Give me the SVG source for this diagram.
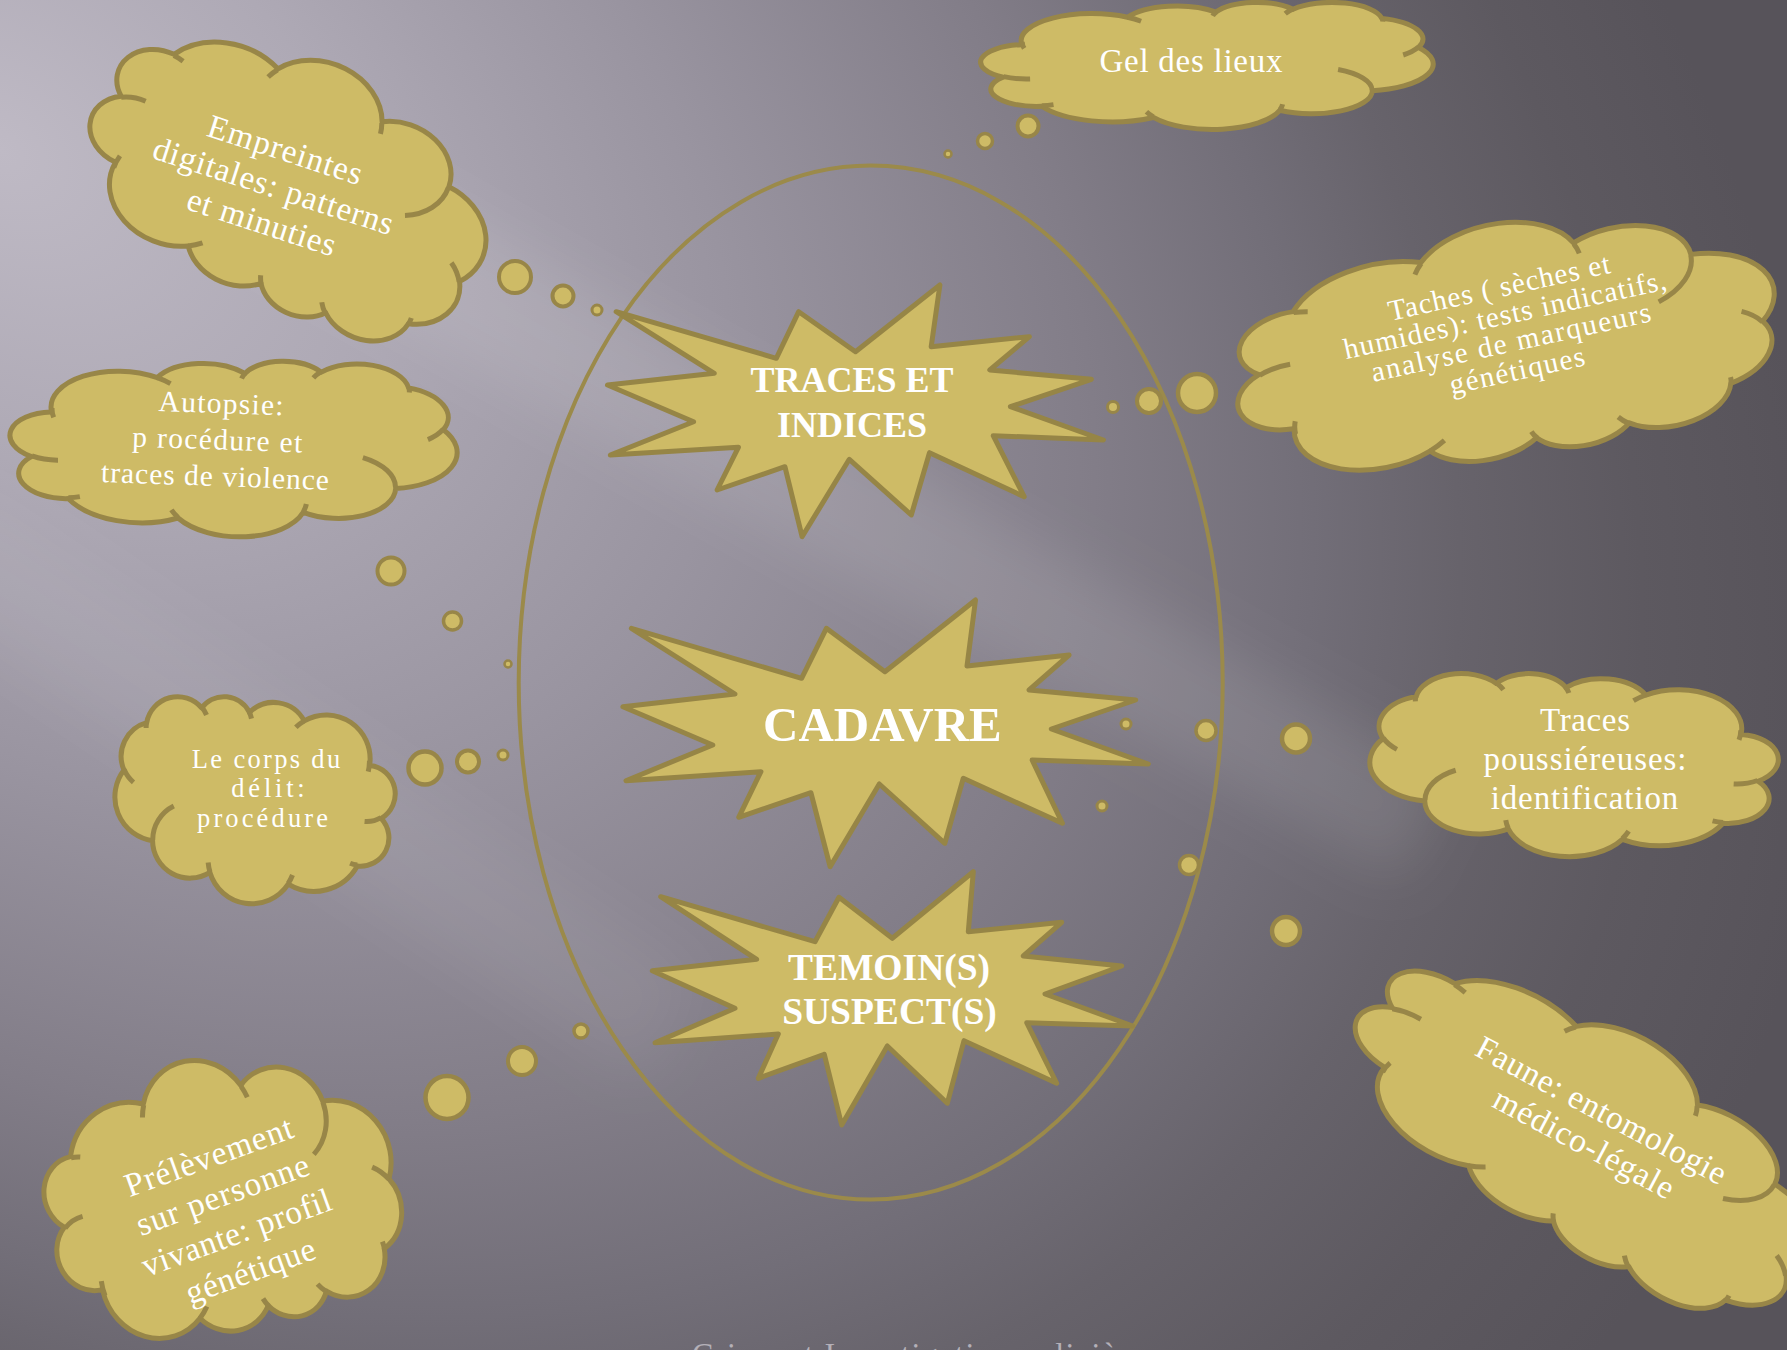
<svg xmlns="http://www.w3.org/2000/svg" xmlns:xlink="http://www.w3.org/1999/xlink" width="1787" height="1350" viewBox="0 0 1787 1350">
<defs>
<radialGradient id="bg" gradientUnits="userSpaceOnUse" cx="0" cy="150" r="2000" gradientTransform="rotate(35 0 150) translate(0 150) scale(1 0.7) translate(0 -150)">
<stop offset="0" stop-color="#bfbac5"/>
<stop offset="0.2" stop-color="#aea9b5"/>
<stop offset="0.4" stop-color="#9994a0"/>
<stop offset="0.6" stop-color="#827d88"/>
<stop offset="0.72" stop-color="#726e78"/>
<stop offset="0.8" stop-color="#67636b"/>
<stop offset="0.9" stop-color="#5d5960"/>
<stop offset="1" stop-color="#57535a"/>
</radialGradient>
<filter id="blur" x="-30%" y="-30%" width="160%" height="160%"><feGaussianBlur stdDeviation="28"/></filter>
<g id="cloud">
<path d="M3900 14370 A6753 9190 0 0 1 14005 5203 A5333 7267 0 0 1 22455 3434 A4365 5945 0 0 1 29830 2478 A4857 6595 0 0 1 38315 5572 A5333 7273 0 0 1 41815 15456 A6775 9220 0 0 1 37404 30205 A5785 7867 0 0 1 28556 36816 A6752 9215 0 0 1 16481 39268 A7720 10543 0 0 1 5805 35476 A4360 5918 0 0 1 2114 25554 A4345 5945 0 0 1 3864 14510 Z" fill="#cebb66" stroke="#988648" stroke-width="5" stroke-linejoin="round" vector-effect="non-scaling-stroke"/>
<path d="M4693 26177 A4345 5945 0 0 1 2160 25380 M6928 34899 A4360 5918 0 0 1 5820 35280 M16478 39090 A6752 9215 0 0 1 15810 37349 M28827 34751 A6752 9215 0 0 1 28560 36660 M34129 22954 A5785 7867 0 0 1 37380 30090 M41798 15354 A5333 7273 0 0 1 40350 18029 M38324 5426 A4857 6595 0 0 1 38400 6690 M29078 3952 A4857 6595 0 0 1 29820 2340 M22141 4720 A4365 5945 0 0 1 22500 3331 M14000 5192 A6753 9190 0 0 1 15299 6540 M4127 15789 A6753 9190 0 0 1 3944 13486" fill="none" stroke="#988648" stroke-width="5" vector-effect="non-scaling-stroke"/>
</g>
</defs>
<style>
.ct { font-family: "Liberation Serif", "DejaVu Serif", serif; fill: #ffffff; text-anchor: middle; }
.st { font-family: "Liberation Serif", "DejaVu Serif", serif; font-weight: bold; fill: #ffffff; text-anchor: middle; }
.burst { fill: #cebb66; stroke: #968546; stroke-width: 5; stroke-linejoin: round; }
.dot { fill: #cebb66; stroke: #988648; }
.ring { fill: none; stroke: #9b8a4a; stroke-width: 4; }
</style>

<rect x="0" y="0" width="1787" height="1350" fill="url(#bg)"/>
<g filter="url(#blur)" fill="#ffffff">
<polygon points="120,170 240,90 1450,780 1400,880" opacity="0.10"/>
<polygon points="-80,600 -40,480 700,980 640,1080" opacity="0.06"/>
</g>
<text x="692" y="1365" font-family="Liberation Serif, serif" font-size="32" fill="#b4b0b8" textLength="452" lengthAdjust="spacing">Crime et Investigation policière</text>

<ellipse class="ring" cx="870.7" cy="682.6" rx="352" ry="517"/>

<g id="connectors">
<circle class="dot" cx="515" cy="277" r="16" stroke-width="4"/>
<circle class="dot" cx="563" cy="296" r="10.5" stroke-width="4"/>
<circle class="dot" cx="597" cy="310" r="5" stroke-width="3"/>
<circle class="dot" cx="1028" cy="126" r="10.5" stroke-width="4"/>
<circle class="dot" cx="985" cy="141" r="7.5" stroke-width="3.5"/>
<circle class="dot" cx="948" cy="154" r="3.5" stroke-width="2.5"/>
<circle class="dot" cx="1197" cy="393" r="19" stroke-width="4.5"/>
<circle class="dot" cx="1149" cy="401" r="12" stroke-width="4"/>
<circle class="dot" cx="1113" cy="407" r="5.5" stroke-width="3"/>
<circle class="dot" cx="391" cy="571" r="13.5" stroke-width="4"/>
<circle class="dot" cx="452.5" cy="621" r="9" stroke-width="3.5"/>
<circle class="dot" cx="508" cy="664" r="3.5" stroke-width="2.5"/>
<circle class="dot" cx="425" cy="768" r="16.5" stroke-width="4.5"/>
<circle class="dot" cx="468" cy="761.5" r="11" stroke-width="4"/>
<circle class="dot" cx="503" cy="755" r="5" stroke-width="3"/>
<circle class="dot" cx="447" cy="1097.5" r="21.5" stroke-width="4.5"/>
<circle class="dot" cx="522" cy="1061" r="14" stroke-width="4"/>
<circle class="dot" cx="581" cy="1031" r="7" stroke-width="3.5"/>
<circle class="dot" cx="1296" cy="738.5" r="14" stroke-width="4.5"/>
<circle class="dot" cx="1206" cy="730.5" r="10" stroke-width="3.5"/>
<circle class="dot" cx="1126" cy="724" r="5" stroke-width="3"/>
<circle class="dot" cx="1286" cy="931" r="14" stroke-width="4.5"/>
<circle class="dot" cx="1189" cy="865" r="9.5" stroke-width="3.5"/>
<circle class="dot" cx="1102" cy="806" r="5" stroke-width="3"/>
</g>

<g id="traces-indices">
<polygon class="burst" points="616.2,311.7 776.3,358.3 798.7,311.7 855.5,351.7 939.9,285 931.2,346.7 1029.4,336.7 989.8,370 1091.4,379.3 1010.4,406.7 1103.4,440 993.2,435.7 1024.2,496.7 929.5,452.7 911.3,515 849.3,459.3 802.1,536.7 784.9,466.7 717.1,490 738.4,447.3 610.3,455 693.6,421.7 607.5,385 714.3,373.3"/>
<text class="st" x="852" y="391.7" font-size="36">TRACES ET</text>
<text class="st" x="852" y="436.7" font-size="36">INDICES</text>
</g>

<g id="cadavre">
<polygon class="burst" points="631.4,628.3 801.6,678.3 826.4,628.3 884.9,671.7 975.5,600 967,666 1069.1,655 1029.1,690 1135.7,700 1051.3,729 1148.3,764 1032.1,760 1062.4,823.3 963.3,778.3 944.8,843.3 879.3,784 830.1,866.7 810.9,792.7 738.7,817.3 760.9,771.7 625.9,780.7 712.8,745 622.9,706.7 735,694"/>
<text class="st" x="882.4" y="740.7" font-size="49">CADAVRE</text>
</g>

<g id="temoins-suspects">
<polygon class="burst" points="660.7,896.7 815,941.7 839,897.3 892.3,938.3 973.3,871.7 968.3,931.7 1061.7,922.3 1023.3,956 1121.7,966 1045,994 1132.7,1026 1026.7,1022.7 1056.7,1083.3 964,1040.7 947.3,1103.3 887.3,1046 841.7,1125 824.3,1054.3 758.3,1078.3 778.3,1034 655,1042.7 735,1008.3 652.3,970.7 756.7,959.3"/>
<text class="st" x="889" y="980" font-size="37.5">TEMOIN(S)</text>
<text class="st" x="889.5" y="1024" font-size="37.5">SUSPECT(S)</text>
</g>

<g id="gel-des-lieux">
<use xlink:href="#cloud" href="#cloud" transform="translate(1207 65.5) scale(0.010463 0.00294) translate(-21600 -21600)"/>
<text class="ct" x="1191" y="71.7" font-size="33" textLength="183" lengthAdjust="spacing">Gel des lieux</text>
</g>

<g id="empreintes" transform="translate(289.2 181.7) rotate(18)">
<use xlink:href="#cloud" href="#cloud" transform="rotate(2) scale(0.009606 -0.005787) translate(-21600 -21600)"/>
<text class="ct" x="-13.7" y="-18" font-size="33.2" textLength="160.8" lengthAdjust="spacing">Empreintes</text>
<text class="ct" x="-13.7" y="20" font-size="33.2" textLength="250.9" lengthAdjust="spacing">digitales: patterns</text>
<text class="ct" x="-13.7" y="58" font-size="33.2" textLength="154.4" lengthAdjust="spacing">et minuties</text>
</g>

<g id="taches" transform="translate(1505 343) rotate(-12.3)">
<use xlink:href="#cloud" href="#cloud" transform="scale(0.012685 -0.005463) translate(-21600 -21600)"/>
<text class="ct" x="6" y="-46" font-size="29.3" textLength="226.5" lengthAdjust="spacing">Taches ( sèches et</text>
<text class="ct" x="6" y="-18" font-size="29.3" textLength="329.5" lengthAdjust="spacing">humides): tests indicatifs,</text>
<text class="ct" x="6" y="10" font-size="29.3" textLength="285.6" lengthAdjust="spacing">analyse de marqueurs</text>
<text class="ct" x="6" y="39" font-size="29.3" textLength="137.8" lengthAdjust="spacing">génétiques</text>
</g>

<g id="autopsie">
<use xlink:href="#cloud" href="#cloud" transform="translate(233.5 447.5) rotate(2) scale(0.010347 0.004097) translate(-21600 -21600)"/>
<g transform="rotate(2 217 450)">
<text class="ct" x="219.5" y="413" font-size="29.5" textLength="125" lengthAdjust="spacing">Autopsie:</text>
<text class="ct" x="217" y="449.5" font-size="29.5" textLength="170" lengthAdjust="spacing">p rocédure et</text>
<text class="ct" x="216" y="486" font-size="29.5" textLength="228" lengthAdjust="spacing">traces de violence</text>
</g>
</g>

<g id="corps-du-delit">
<use xlink:href="#cloud" href="#cloud" transform="translate(255 799.5) scale(-0.006481 0.004792) translate(-21600 -21600)"/>
<text class="ct" x="266" y="767.5" font-size="26.5" textLength="148.3" lengthAdjust="spacing">Le corps du</text>
<text class="ct" x="268" y="797" font-size="26.5" textLength="73.3" lengthAdjust="spacing">délit:</text>
<text class="ct" x="262.5" y="826.5" font-size="26.5" textLength="131" lengthAdjust="spacing">procédure</text>
</g>

<g id="traces-poussiereuses">
<use xlink:href="#cloud" href="#cloud" transform="translate(1574 764.5) scale(-0.009444 0.004236) translate(-21600 -21600)"/>
<text class="ct" x="1585" y="731" font-size="33" textLength="90" lengthAdjust="spacing">Traces</text>
<text class="ct" x="1585" y="770" font-size="33" textLength="203" lengthAdjust="spacing">poussiéreuses:</text>
<text class="ct" x="1584.5" y="809" font-size="33" textLength="187.7" lengthAdjust="spacing">identification</text>
</g>

<g id="faune" transform="translate(1590 1139) rotate(28)">
<use xlink:href="#cloud" href="#cloud" transform="translate(-4 -3) scale(0.011921 -0.005093) translate(-21600 -21600)"/>
<text class="ct" x="-3.4" y="-19.7" font-size="33.4" textLength="278.8" lengthAdjust="spacing">Faune: entomologie</text>
<text class="ct" x="-3.4" y="17.6" font-size="33.4" textLength="200" lengthAdjust="spacing">médico-légale</text>
</g>

<g id="prelevement" transform="translate(223.5 1203) rotate(-20)">
<use xlink:href="#cloud" href="#cloud" transform="translate(0 -6) scale(0.008102 -0.006481) translate(-21600 -21600)"/>
<text class="ct" x="2" y="-37.5" font-size="33.5" textLength="176.6" lengthAdjust="spacing">Prélèvement</text>
<text class="ct" x="2" y="3" font-size="33.5" textLength="181.8" lengthAdjust="spacing">sur personne</text>
<text class="ct" x="2" y="43.5" font-size="33.5" textLength="199.4" lengthAdjust="spacing">vivante: profil</text>
<text class="ct" x="2" y="84" font-size="33.5" textLength="136" lengthAdjust="spacing">génétique</text>
</g>
</svg>
